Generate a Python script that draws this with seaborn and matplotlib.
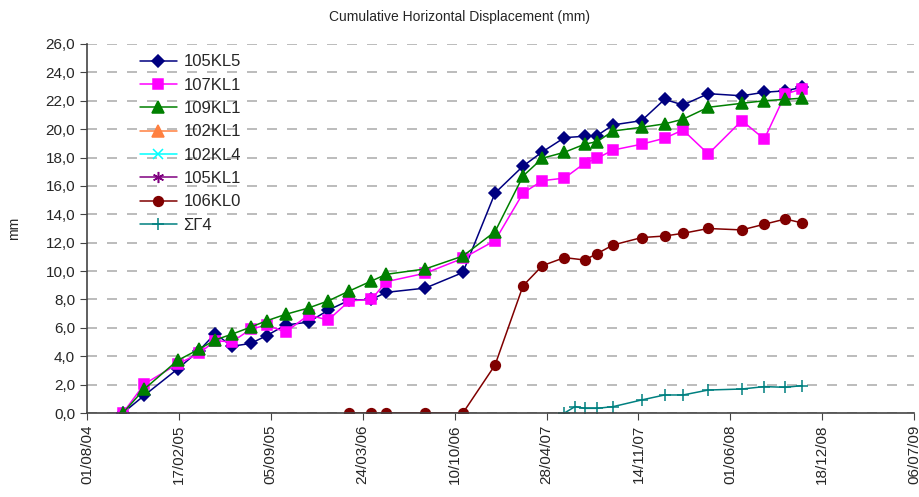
import matplotlib
matplotlib.use("Agg")
from matplotlib import pyplot as plt
import matplotlib.dates as mdates
from matplotlib.lines import Line2D
from matplotlib.ticker import FuncFormatter, MultipleLocator
import seaborn as sns
import pandas as pd

# measurement dates shared by the inclinometers
dates_main = [
    "2004-10-18", "2004-12-04", "2005-02-14", "2005-04-02", "2005-05-07",
    "2005-06-12", "2005-07-23", "2005-08-27", "2005-10-07", "2005-11-26",
    "2006-01-08", "2006-02-23", "2006-04-12", "2006-05-14", "2006-08-07",
    "2006-10-28", "2007-01-06", "2007-03-08", "2007-04-19", "2007-06-06",
    "2007-07-20", "2007-08-16", "2007-09-20", "2007-11-21", "2008-01-10",
    "2008-02-19", "2008-04-14", "2008-06-26", "2008-08-14", "2008-09-29",
    "2008-11-04",
]
kl5_105 = [0.0, 1.25, 3.1, 4.4, 5.6, 4.7, 4.9, 5.45, 6.2, 6.4, 7.25, 7.95, 8.0,
           8.5, 8.8, 9.9, 15.5, 17.4, 18.4, 19.4, 19.5, 19.55, 20.3, 20.6, 22.1,
           21.7, 22.5, 22.35, 22.6, 22.7, 22.95]
kl1_107 = [0.0, 2.05, 3.45, 4.2, 5.1, 5.0, 5.9, 6.2, 5.7, 6.9, 6.55, 7.9, 8.0,
           9.25, 9.85, 10.9, 12.15, 15.5, 16.37, 16.55, 17.6, 17.95, 18.53,
           18.94, 19.36, 19.94, 18.25, 20.6, 19.3, 22.48, 22.83]
kl1_109 = [0.0, 1.7, 3.7, 4.5, 5.15, 5.55, 6.05, 6.5, 6.95, 7.4, 7.9, 8.6, 9.3,
           9.77, 10.15, 11.06, 12.78, 16.7, 17.95, 18.37, 18.94, 19.12, 19.87,
           20.13, 20.37, 20.7, 21.54, 21.82, 22.0, 22.1, 22.18]

dates_106 = [
    "2006-02-23", "2006-04-12", "2006-05-14", "2006-08-07", "2006-10-28",
    "2007-01-06", "2007-03-08", "2007-04-19", "2007-06-06", "2007-07-20",
    "2007-08-16", "2007-09-20", "2007-11-21", "2008-01-10", "2008-02-19",
    "2008-04-14", "2008-06-26", "2008-08-14", "2008-09-29", "2008-11-04",
]
kl0_106 = [0.0, 0.0, 0.0, 0.0, 0.0, 3.38, 8.97, 10.38, 10.95, 10.78, 11.23,
           11.84, 12.36, 12.47, 12.66, 13.0, 12.9, 13.3, 13.67, 13.39]

dates_sg4 = [
    "2007-06-06", "2007-06-29", "2007-07-20", "2007-08-16", "2007-09-20",
    "2007-11-21", "2008-01-10", "2008-02-19", "2008-04-14", "2008-06-26",
    "2008-08-14", "2008-09-29", "2008-11-04",
]
sg4 = [0.0, 0.45, 0.33, 0.33, 0.45, 0.92, 1.27, 1.27, 1.62, 1.69, 1.86, 1.81, 1.93]

tick_dates = ["2004-08-01", "2005-02-17", "2005-09-05", "2006-03-24", "2006-10-10",
              "2007-04-28", "2007-11-14", "2008-06-01", "2008-12-18", "2009-07-06"]

sns.set_style("white")
plt.rcParams["font.family"] = ["Liberation Sans", "DejaVu Sans"]

fig = plt.figure(figsize=(9.2, 4.97), dpi=100)
ax = fig.add_axes([0.0946, 0.169, 0.899, 0.7425])

series = [
    ("105KL5", dates_main, kl5_105, "#000080", "D", 6),
    ("107KL1", dates_main, kl1_107, "#FF00FF", "s", 7),
    ("109KL1", dates_main, kl1_109, "#008000", "^", 8),
    ("106KL0", dates_106, kl0_106, "#800000", "o", 7),
    ("ΣΓ4", dates_sg4, sg4, "#008080", "+", 8),
]
for name, d, v, c, m, ms in series:
    sns.lineplot(x=pd.to_datetime(d), y=v, ax=ax, color=c, marker=m,
                 markersize=ms, markeredgecolor=c, markeredgewidth=1.1,
                 linewidth=1.1, legend=False)

# legend, including the instruments without readings
entries = [
    ("105KL5", "#000080", "D", 6),
    ("107KL1", "#FF00FF", "s", 7),
    ("109KL1", "#008000", "^", 8),
    ("102KL1", "#FF8040", "^", 8),
    ("102KL4", "#00FFFF", "x", 7),
    ("105KL1", "#800080", (6, 2, 0), 8),
    ("106KL0", "#800000", "o", 7),
    ("ΣΓ4", "#008080", "+", 8),
]
handles = [Line2D([], [], color=c, marker=m, markersize=ms, markeredgecolor=c,
                  markeredgewidth=1.1, linewidth=1.1, label=n)
           for n, c, m, ms in entries]
ax.legend(handles=handles, loc="upper left", bbox_to_anchor=(0.056, 0.99),
          frameon=False, fontsize=12, handlelength=2.2, labelspacing=0.5,
          handletextpad=0.4, borderaxespad=0)

ax.set_xlim(pd.Timestamp("2004-08-01"), pd.Timestamp("2009-07-06"))
ax.set_xticks(pd.to_datetime(tick_dates))
ax.xaxis.set_major_formatter(mdates.DateFormatter("%d/%m/%y"))
ax.set_ylim(0, 26)
ax.yaxis.set_major_locator(MultipleLocator(2))
ax.yaxis.set_major_formatter(FuncFormatter(lambda v, p: f"{v:.1f}".replace(".", ",")))
ax.tick_params(axis="x", labelrotation=90, labelsize=11, length=5, direction="out",
               bottom=True, color="#444444")
ax.tick_params(axis="y", labelsize=11, length=5, direction="out", left=True,
               color="#444444")

ax.grid(axis="y", color="#B0B0B0", linestyle=(0, (6, 6)), linewidth=1.2)
ax.set_axisbelow(True)
sns.despine(ax=ax, top=True, right=True)
for s in ("left", "bottom"):
    ax.spines[s].set_color("#444444")
    ax.spines[s].set_linewidth(1.2)

ax.set_ylabel("mm", fontsize=10, labelpad=18)
ax.set_xlabel("")
fig.text(0.5, 0.965, "Cumulative Horizontal Displacement (mm)", ha="center",
         va="center", fontsize=10)

fig.savefig("out.png", dpi=100)
